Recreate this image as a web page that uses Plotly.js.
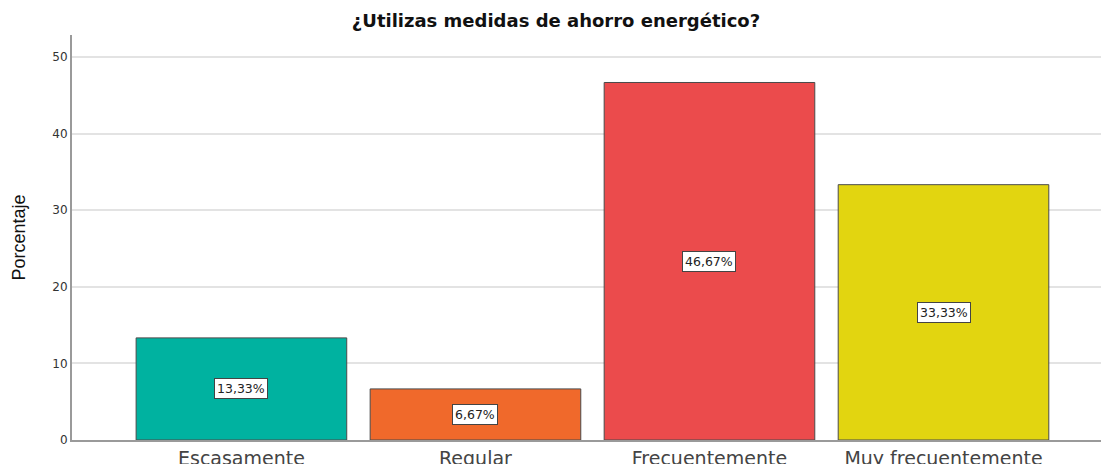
<!DOCTYPE html>
<html>
<head>
<meta charset="utf-8">
<script src="https://cdn.plot.ly/plotly-3.0.1.min.js"></script>
<style>html,body{margin:0;padding:0;background:#fff;}#chart{width:1101px;height:464px;}</style>
</head>
<body>
<div id="chart"></div>
<script>
const categories = ["Escasamente", "Regular", "Frecuentemente", "Muy frecuentemente"];
const percentages = [13.33, 6.67, 46.67, 33.33];
const valueLabels = ["13,33%", "6,67%", "46,67%", "33,33%"];
const barColors = ["#00b2a0", "#f0692b", "#eb4b4c", "#e2d510"];
const yTicks = [0, 10, 20, 30, 40, 50];

const trace = {
  type: "bar",
  x: categories,
  y: percentages,
  width: 0.9,
  marker: { color: barColors, line: { color: "#4a4a4a", width: 1 } },
  hoverinfo: "skip"
};

const annotations = categories.map((c, i) => ({
  x: c, y: percentages[i] / 2, xref: "x", yref: "y",
  text: valueLabels[i], showarrow: false,
  font: { family: "DejaVu Sans, sans-serif", size: 12.5, color: "#222" },
  bgcolor: "#ffffff", bordercolor: "#444", borderwidth: 1, borderpad: 2
}));

const layout = {
  width: 1101, height: 464,
  margin: { l: 72, r: 0, t: 35, b: 24, pad: 0 },
  paper_bgcolor: "#fff", plot_bgcolor: "#fff",
  showlegend: false,
  title: {
    text: "¿Utilizas medidas de ahorro energético?",
    font: { family: "DejaVu Sans, sans-serif", size: 18, color: "#111", weight: "bold" },
    x: 0.505, xanchor: "center", y: 0.955, yanchor: "middle"
  },
  xaxis: {
    type: "category",
    range: [-0.724, 3.673],
    showgrid: false, zeroline: false,
    showline: true, linecolor: "#9a9a9a", linewidth: 2,
    ticks: "", ticklen: 0,
    tickfont: { family: "DejaVu Sans, sans-serif", size: 19, color: "#444" },
    fixedrange: true
  },
  yaxis: {
    range: [0, 52.87],
    tickvals: yTicks,
    showgrid: true, gridcolor: "#e3e3e3", gridwidth: 2,
    zeroline: false,
    showline: true, linecolor: "#9a9a9a", linewidth: 2,
    ticks: "", ticklen: 0,
    tickfont: { family: "DejaVu Sans, sans-serif", size: 12, color: "#333" },
    title: {
      text: "Porcentaje",
      font: { family: "Liberation Sans, Arial, sans-serif", size: 18, color: "#111" },
      standoff: 22
    },
    fixedrange: true
  },
  annotations: annotations
};

Plotly.newPlot("chart", [trace], layout, { displayModeBar: false, staticPlot: true });
</script>
</body>
</html>
